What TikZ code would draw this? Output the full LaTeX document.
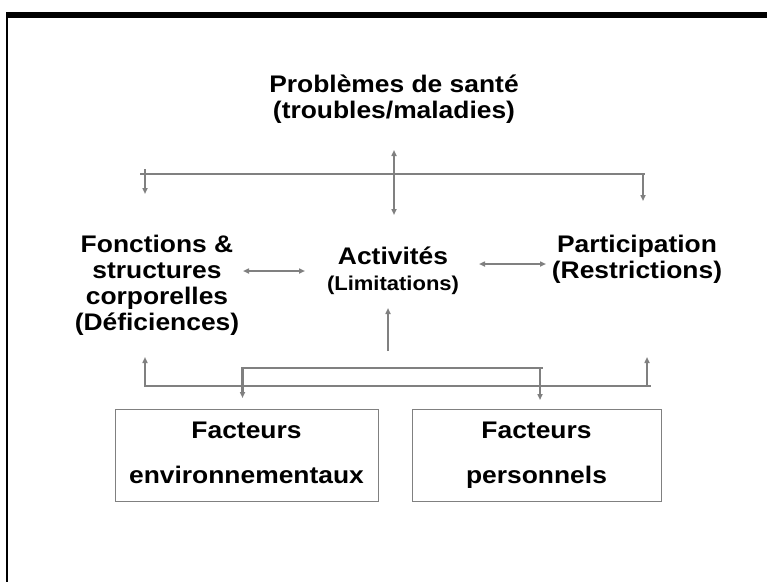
\documentclass[tikz,border=0pt]{standalone}
\usepackage{fontspec}
\newfontfamily\labfont[FakeStretch=1.1]{Liberation Sans}
\usetikzlibrary{arrows.meta}
\definecolor{linegray}{HTML}{808080}
\tikzset{
  lab/.style={font=\labfont\bfseries\fontsize{24}{26}\selectfont, align=center, inner sep=0pt, anchor=north},
  conn/.style={draw=linegray, line width=2.2pt},
  factbox/.style={draw=linegray, line width=1pt, minimum width=#1, minimum height=92pt,
     inner sep=0pt, align=center, font=\labfont\bfseries\fontsize{24}{45}\selectfont},
  frame/.style={fill=black},
  >={Triangle[length=6pt,width=5pt]}
}
\begin{document}
\begin{tikzpicture}[x=1pt,y=-1pt]
\useasboundingbox (0,0) rectangle (767,582);
% slide frame
\fill[frame] (6,12) rectangle (767,18);
\fill[frame] (6,12) rectangle (8,582);

% texts
\node[lab] (sante) at (394,74.5) {Problèmes de santé\\(troubles/maladies)};
\node[lab] (fonct) at (157,234.5) {Fonctions \&\\structures\\corporelles\\(Déficiences)};
\node[lab] (activ) at (393,247) {Activités\\{\fontsize{20}{25}\selectfont (Limitations)}};
\node[lab] (partic) at (637,234.5) {Participation\\(Restrictions)};

\node[factbox=263pt] (env) at (246.5,455.5) {Facteurs\\environnementaux\vphantom{p}};
\node[factbox=249pt] (pers) at (536.5,455.5) {Facteurs\\personnels};

% top connector
\coordinate (tl) at (140,174);
\coordinate (tr) at (645,174);
\coordinate (tla) at (145,169);
\coordinate (tlb) at (145,194);
\coordinate (tra) at (643,174);
\coordinate (trb) at (643,201);
\coordinate (tca) at (394,150);
\coordinate (tcb) at (394,215);
\draw[conn] (tl) -- (tr);
\draw[conn,->] (tla) -- (tlb);
\draw[conn,->] (tra) -- (trb);
\draw[conn,<->] (tca) -- (tcb);

% middle connectors
\coordinate (ml1) at (243,271);
\coordinate (ml2) at (305,271);
\coordinate (mr1) at (479,264);
\coordinate (mr2) at (546,264);
\coordinate (mc1) at (388,351);
\coordinate (mc2) at (388,308);
\draw[conn,<->] (ml1) -- (ml2);
\draw[conn,<->] (mr1) -- (mr2);
\draw[conn,->] (mc1) -- (mc2);

% bottom connectors
\coordinate (bl1) at (145,357);
\coordinate (bl2) at (145,386);
\coordinate (br) at (651,386);
\coordinate (br1) at (647,386);
\coordinate (br2) at (647,357);
\draw[conn,<-] (bl1) -- (bl2) -- (br);
\draw[conn,->] (br1) -- (br2);

\coordinate (kl1) at (242.5,398);
\coordinate (kl2) at (242.5,368);
\coordinate (kr) at (543,368);
\coordinate (kr1) at (540,368);
\coordinate (kr2) at (540,400);
\draw[conn,<-] (kl1) -- (kl2) -- (kr);
\draw[conn,->] (kr1) -- (kr2);
\end{tikzpicture}
\end{document}
